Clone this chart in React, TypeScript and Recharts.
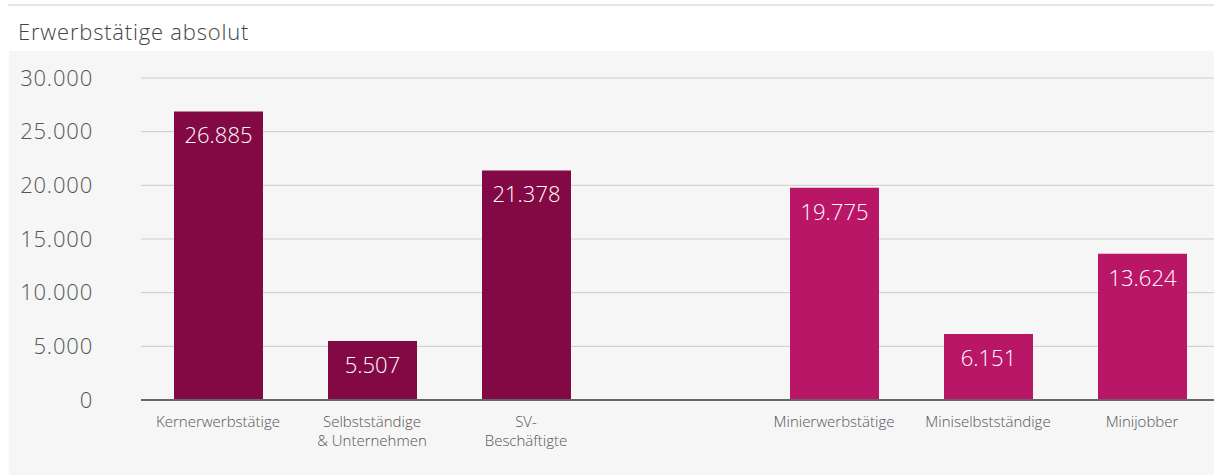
import { BarChart, Bar, XAxis, YAxis, CartesianGrid, Cell, LabelList } from 'recharts'

const categories = [
  'Kernerwerbstätige',
  'Selbstständige\n& Unternehmen',
  'SV-\nBeschäftigte',
  '',
  'Minierwerbstätige',
  'Miniselbstständige',
  'Minijobber',
]
const values: (number | null)[] = [26885, 5507, 21378, null, 19775, 6151, 13624]
const yTicks = [0, 5000, 10000, 15000, 20000, 25000, 30000]

const DARK = '#820944'
const PINK = '#b91668'
const barColors = [DARK, DARK, DARK, DARK, PINK, PINK, PINK]

const FONT = '"Open Sans", "DejaVu Sans", sans-serif'

const data = categories.map((name, i) => ({ name, value: values[i] }))

// 30000 -> 30.000
const fmt = (v: number) => String(v).replace(/\B(?=(\d{3})+(?!\d))/g, '.')

function XTick(props: any) {
  const { x, y, payload } = props
  const lines = String(payload.value).split('\n')
  return (
    <g>
      {lines.map((l: string, i: number) => (
        <text
          key={i}
          x={x}
          y={y + 19 + i * 19}
          textAnchor="middle"
          fill="#555"
          fontSize={15}
          fontWeight={300}
          fontFamily={FONT}
        >
          {l}
        </text>
      ))}
    </g>
  )
}

function ValueLabel(props: any) {
  const { x, y, width, value } = props
  if (value == null) return null
  return (
    <text
      x={x + width / 2}
      y={y + 26}
      textAnchor="middle"
      dominantBaseline="middle"
      fill="#fff"
      fontSize={22}
      fontWeight={300}
      fontFamily={FONT}
    >
      {fmt(value)}
    </text>
  )
}

export default function App() {
  return (
    <div style={{ position: 'absolute', left: 0, top: 0, width: 1214, height: 475, background: '#fff', overflow: 'hidden' }}>
      <div style={{ position: 'absolute', left: 8, top: 4, width: 1206, height: 2, background: '#e6e6e6' }} />
      <div
        style={{
          position: 'absolute',
          left: 18,
          top: 16,
          fontSize: 22,
          letterSpacing: 0.8,
          color: '#444',
          fontFamily: FONT,
          fontWeight: 300,
          whiteSpace: 'nowrap',
        }}
      >
        Erwerbstätige absolut
      </div>
      <div style={{ position: 'absolute', left: 9, top: 51, width: 1205, height: 424, background: '#f6f6f6', overflow: 'hidden' }}>
        <BarChart
          width={1210}
          height={424}
          data={data}
          margin={{ top: 27, right: 0, left: 0, bottom: 0 }}
          barSize={89}
        >
          <CartesianGrid vertical={false} stroke="#c9cdd0" />
          <XAxis
            dataKey="name"
            axisLine={{ stroke: '#666', strokeWidth: 2 }}
            tickLine={false}
            interval={0}
            height={75}
            tick={<XTick />}
          />
          <YAxis
            width={132}
            domain={[0, 30000]}
            ticks={yTicks}
            axisLine={false}
            tickLine={false}
            tickMargin={42}
            tickFormatter={fmt}
            tick={{ fill: '#555', fontSize: 22, fontWeight: 300, fontFamily: FONT, letterSpacing: 0.8 }}
          />
          <Bar dataKey="value" isAnimationActive={false}>
            {data.map((d, i) => (
              <Cell key={d.name + i} fill={barColors[i]} />
            ))}
            <LabelList dataKey="value" content={<ValueLabel />} />
          </Bar>
        </BarChart>
      </div>
    </div>
  )
}
